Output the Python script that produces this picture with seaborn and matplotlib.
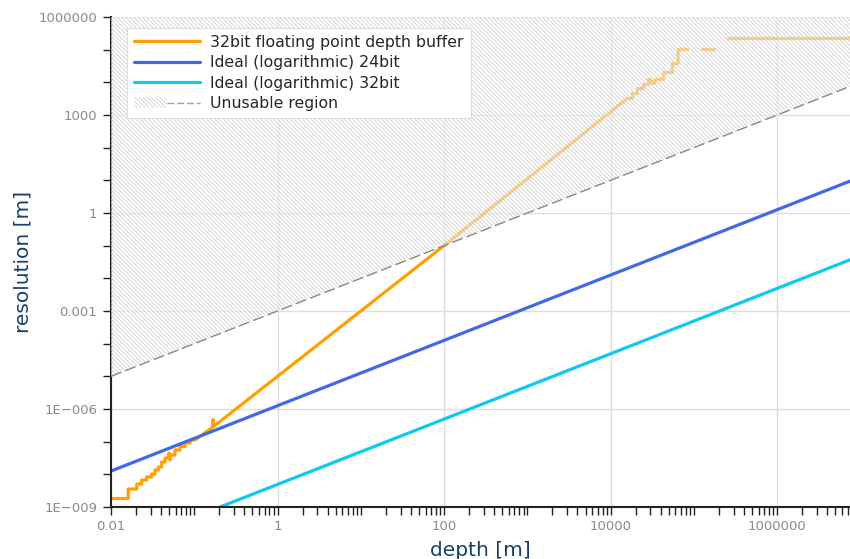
import numpy as np
import pandas as pd
import matplotlib
matplotlib.use("Agg")
import matplotlib.pyplot as plt
from matplotlib.ticker import FixedLocator, FixedFormatter, NullFormatter
from matplotlib.patches import Patch
from matplotlib.lines import Line2D
from matplotlib.legend_handler import HandlerTuple
import seaborn as sns

nan = np.nan

# Axis extents
depth_limits = [0.01, 7.5e6]
res_limits = [1e-9, 1e6]

# 32bit float depth buffer resolution (NaN marks breaks in the curve)
float32_depth = [
    0.01, 0.0161, 0.0161, 0.0204, 0.0204, 0.0234, 0.0234, 0.0268, 0.0268,
    0.0308, 0.0308, 0.0338, 0.0338, 0.0371, 0.0371, 0.0406, 0.0406, 0.0446,
    0.0446, 0.0491, 0.0498, 0.0512, 0.0526, 0.0587, 0.0587, 0.0674, 0.0674,
    0.0775, 0.0775, 0.0891, 0.0891, 0.102, 0.166, 0.168, 0.170, 100.0,
    15900, 18300, 18300, 21000, 21000, 24800, 24800, 28500, 28500, 30100,
    31600, 33600, 34500, 43400, 43400, 55300, 55300, 64700, 64700, 84500,
    nan, 126000, 173000,
    nan, 258000, 7.5e6,
]
float32_res = [
    1.82e-9, 1.82e-9, 3.56e-9, 3.56e-9, 5.06e-9, 5.06e-9, 6.70e-9, 6.70e-9, 8.28e-9,
    8.28e-9, 1.02e-8, 1.02e-8, 1.36e-8, 1.36e-8, 1.68e-8, 1.68e-8, 2.38e-8, 2.38e-8,
    3.16e-8, 3.16e-8, 4.50e-8, 2.75e-8, 3.91e-8, 3.91e-8, 5.56e-8, 5.56e-8, 7.11e-8,
    7.11e-8, 9.10e-8, 9.10e-8, 1.12e-7, 1.12e-7, 2.76e-7, 4.77e-7, 2.89e-7, 0.1,
    3240, 3240, 4540, 4540, 6460, 6460, 8550, 8550, 12300, 12300,
    9310, 9310, 12300, 12300, 20200, 20200, 38100, 38100, 102000, 102000,
    nan, 102000, 102000,
    nan, 232000, 232000,
]

# Ideal logarithmic depth buffers (straight lines on log-log axes)
ideal_depth = [0.01, 7.5e6]
ideal24_res = [1.26e-8, 9.45]
ideal32_res = [4.9e-11, 0.0369]

# Boundary of the unusable region (resolution worse than depth / 1000)
unusable_depth = [0.01, 7.5e6]
unusable_res = [1e-5, 7500]

# Tick positions and labels
x_tick_values = [0.01, 1, 100, 10000, 1000000]
x_tick_labels = ["0.01", "1", "100", "10000", "1000000"]
y_tick_values = [1e-9, 1e-6, 1e-3, 1, 1e3, 1e6]
y_tick_labels = ["1E\u2212009", "1E\u2212006", "0.001", "1", "1000", "1000000"]

series_names = [
    "32bit floating point depth buffer",
    "Ideal (logarithmic) 24bit",
    "Ideal (logarithmic) 32bit",
    "Unusable region",
]

orange = "#ffa000"
blue = "#4169e6"
cyan = "#10c8f0"
label_color = "#17406e"
tick_label_color = "#8a8a8a"
hatch_color = "#c6c6c6"
hatch = "\\" * 8

sns.set_theme(style="white")
plt.rcParams["font.family"] = ["DejaVu Sans"]
plt.rcParams["hatch.linewidth"] = 0.5

fig = plt.figure(figsize=(8.5, 5.59), dpi=100)
ax = fig.add_axes([111 / 850, 52 / 559, 739 / 850, 490 / 559])
ax.set_xscale("log")
ax.set_yscale("log")

# Float depth buffer, drawn as separate runs between the gaps
fdf = pd.DataFrame({"depth": float32_depth, "resolution": float32_res})
fdf["run"] = fdf["depth"].isna().cumsum()
fdf = fdf.dropna()
sns.lineplot(data=fdf, x="depth", y="resolution", units="run", estimator=None,
             sort=False, color=orange, lw=2.3, ax=ax, zorder=2)

sns.lineplot(x=ideal_depth, y=ideal24_res, color=blue, lw=2.3, ax=ax, zorder=2)
sns.lineplot(x=ideal_depth, y=ideal32_res, color=cyan, lw=2.3, ax=ax, zorder=2)

# Unusable region: washed-out hatched area above the boundary
ax.fill_between(unusable_depth, unusable_res, res_limits[1],
                facecolor=(1, 1, 1, 0.5), edgecolor=hatch_color,
                hatch=hatch, linewidth=0, zorder=3)
sns.lineplot(x=unusable_depth, y=unusable_res, color="#888888", lw=1.0,
             dashes=False, ax=ax, zorder=4)
ax.lines[-1].set_dashes([8, 3])

ax.set_xlim(*depth_limits)
ax.set_ylim(*res_limits)

# Ticks: labelled majors with grid, unlabelled minors
ax.xaxis.set_major_locator(FixedLocator(x_tick_values))
ax.xaxis.set_major_formatter(FixedFormatter(x_tick_labels))
x_minor = [m * 10.0 ** e for e in range(-2, 7) for m in range(1, 10)]
ax.xaxis.set_minor_locator(FixedLocator([v for v in x_minor if v not in x_tick_values]))
ax.xaxis.set_minor_formatter(NullFormatter())
ax.yaxis.set_major_locator(FixedLocator(y_tick_values))
ax.yaxis.set_major_formatter(FixedFormatter(y_tick_labels))
ax.yaxis.set_minor_locator(FixedLocator([10.0 ** e for e in range(-9, 7) if e % 3 != 0]))
ax.yaxis.set_minor_formatter(NullFormatter())

ax.tick_params(which="both", direction="out", length=6, width=1.0, color="#222222",
               labelsize=9.5, labelcolor=tick_label_color)
ax.tick_params(axis="x", which="both", bottom=True, pad=3)
ax.tick_params(axis="y", which="both", left=True, pad=4)
ax.grid(True, which="major", color="#dddddd", lw=1.0, zorder=0)
ax.grid(False, which="minor")
ax.set_axisbelow(True)

for side in ("top", "right"):
    ax.spines[side].set_visible(False)
for side in ("left", "bottom"):
    ax.spines[side].set_color("#222222")
    ax.spines[side].set_linewidth(1.5)

ax.set_xlabel("depth [m]", fontsize=14.5, color=label_color, labelpad=6)
ax.set_ylabel("resolution [m]", fontsize=14.5, color=label_color, labelpad=4)

handles = [
    Line2D([], [], color=orange, lw=2.3),
    Line2D([], [], color=blue, lw=2.3),
    Line2D([], [], color=cyan, lw=2.3),
    (Patch(facecolor="white", edgecolor=hatch_color, hatch=hatch, lw=0),
     Line2D([], [], color="#a0a0a0", lw=1.0, dashes=[5, 2])),
]
leg = ax.legend(handles, series_names, loc="upper left", bbox_to_anchor=(0.022, 0.978),
                borderaxespad=0, fontsize=11.3, handlelength=4.2, handletextpad=0.65,
                labelspacing=0.35, borderpad=0.45, frameon=True, fancybox=False,
                framealpha=1.0, edgecolor="#dddddd",
                handler_map={tuple: HandlerTuple(ndivide=None, pad=0)})
leg.set_zorder(10)
leg.get_frame().set_linewidth(0.8)

fig.savefig("out.png", dpi=100)
